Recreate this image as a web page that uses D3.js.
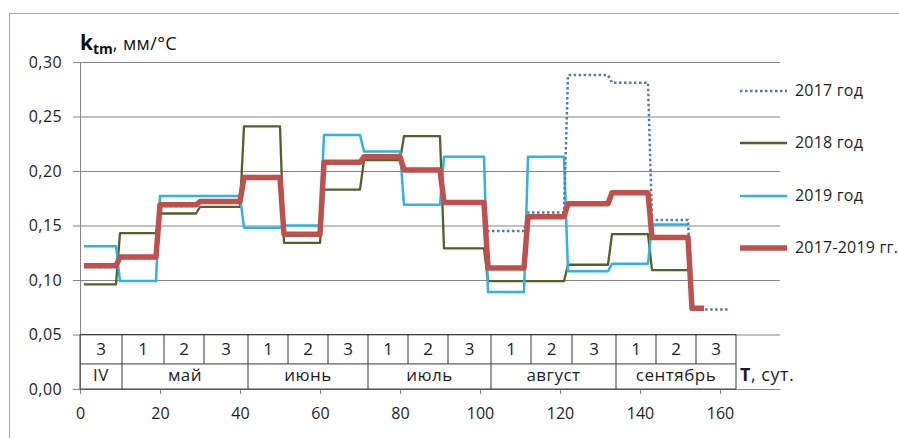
<!DOCTYPE html>
<html><head><meta charset="utf-8">
<script src="https://cdnjs.cloudflare.com/ajax/libs/d3/7.8.5/d3.min.js"></script>
<style>
html,body{margin:0;padding:0;background:#fff;}
svg{display:block;font-family:"Open Sans",sans-serif;}
</style></head>
<body>
<script>
// ---------- DATA ----------
const decadeLabels = ["3","1","2","3","1","2","3","1","2","3","1","2","3","1","2","3"];
const monthLabels = ["IV","май","июнь","июль","август","сентябрь"];
const monthDecadeCounts = [1,3,3,3,3,3];
const tableEdges = [0,10.5,21,31,42,52,62,72,82,92,102.75,112.75,123,134,144,154,164];
const decadeFirstDay = [1,10,20,30,41,51,61,71,81,91,102,112,122,133,143,153];
const decadeLastDay  = [9,19,29,40,50,60,70,80,90,101,111,121,132,142,152,162];
const xTicks = [0,20,40,60,80,100,120,140,160];
const yTicks = [0,0.05,0.10,0.15,0.20,0.25,0.30];

const k2017 = [0.112,0.120,0.168,0.171,0.193,0.143,0.207,0.212,0.201,0.171,0.145,0.162,0.288,0.281,0.155,0.073];
const k2018 = [0.096,0.143,0.161,0.167,0.241,0.134,0.183,0.210,0.232,0.129,0.099,0.099,0.114,0.142,0.109];
const k2019 = [0.131,0.099,0.177,0.177,0.148,0.150,0.233,0.218,0.169,0.213,0.089,0.213,0.108,0.115,0.151];
const kAvg  = [0.113,0.121,0.169,0.172,0.194,0.142,0.208,0.213,0.201,0.171,0.111,0.158,0.170,0.180,0.139,0.074];
const lastDay2017 = 162, lastDay2018 = 152, lastDay2019 = 152, lastDayAvg = 156;

const seriesNames = ["2017 год","2018 год","2019 год","2017-2019 гг."];

// ---------- LAYOUT ----------
const W = 899, H = 438;
const svg = d3.select("body").append("svg").attr("width", W).attr("height", H);

svg.append("rect").attr("x", 9.5).attr("y", 13.5).attr("width", 1000).attr("height", 1000)
  .attr("fill", "none").attr("stroke", "#a6a6a6").attr("stroke-width", 1);

const x = d3.scaleLinear().domain([0, 175]).range([80, 780]);
const y = d3.scaleLinear().domain([0, 0.30]).range([389, 62]);
const grid = "#868686";
const txt = "#1e1e1e";

// Y axis with gridlines
const yAxis = d3.axisLeft(y).tickValues(yTicks)
  .tickFormat(d => d3.format(".2f")(d).replace(".", ","))
  .tickSize(-(780 - 80)).tickPadding(18);
const gy = svg.append("g").attr("transform", "translate(80,0)").call(yAxis);
gy.select(".domain").remove();
gy.selectAll(".tick line").attr("stroke", grid).attr("stroke-width", 1);
gy.selectAll(".tick").append("line").attr("x1", -7).attr("x2", 0).attr("stroke", grid);
gy.selectAll(".tick text").attr("font-size", 16).attr("fill", txt)
  .attr("font-family", "Open Sans, sans-serif").attr("letter-spacing", 0.4);
svg.append("line").attr("x1", 80.5).attr("x2", 80.5).attr("y1", y(0.30)).attr("y2", y(0))
  .attr("stroke", grid);

// X axis
const xAxis = d3.axisBottom(x).tickValues(xTicks).tickSizeInner(5).tickSizeOuter(0).tickPadding(14);
const gx = svg.append("g").attr("transform", `translate(0,${y(0)})`).call(xAxis);
gx.select(".domain").attr("stroke", grid);
gx.selectAll(".tick line").attr("stroke", grid);
gx.selectAll(".tick text").attr("font-size", 16).attr("fill", txt)
  .attr("font-family", "Open Sans, sans-serif");

// ---------- TABLE ----------
const tTop = y(0.05), tBot = y(0), tMid = tTop + (tBot - tTop) * 0.54;
const tb = svg.append("g");
const tCol = "#3a3a3a";
const tEnd = x(tableEdges[tableEdges.length-1]);
[tTop, tMid, tBot].forEach(yy => {
  tb.append("line").attr("x1", x(0)).attr("x2", tEnd).attr("y1", yy).attr("y2", yy).attr("stroke", tCol);
});
const monthEdgeIdx = [0];
monthDecadeCounts.forEach(c => monthEdgeIdx.push(monthEdgeIdx[monthEdgeIdx.length-1] + c));
tableEdges.forEach((e, i) => {
  const full = monthEdgeIdx.includes(i);
  tb.append("line").attr("x1", x(e)).attr("x2", x(e))
    .attr("y1", tTop).attr("y2", full ? tBot : tMid).attr("stroke", tCol);
});
decadeLabels.forEach((t, i) => {
  tb.append("text").attr("x", (x(tableEdges[i]) + x(tableEdges[i+1])) / 2)
    .attr("y", (tTop + tMid) / 2 + 6).attr("text-anchor", "middle")
    .attr("font-size", 17).attr("fill", txt).text(t);
});
monthLabels.forEach((t, i) => {
  const a = tableEdges[monthEdgeIdx[i]], b = tableEdges[monthEdgeIdx[i+1]];
  tb.append("text").attr("x", (x(a) + x(b)) / 2)
    .attr("y", (tMid + tBot) / 2 + 5).attr("text-anchor", "middle")
    .attr("font-size", 17).attr("letter-spacing", 0.5).attr("fill", txt).text(t);
});
const tl = tb.append("text").attr("x", tEnd + 4)
  .attr("y", (tMid + tBot) / 2 + 5).attr("font-size", 18).attr("fill", txt).attr("letter-spacing", 0.5);
tl.append("tspan").attr("font-weight", "bold").text("T");
tl.append("tspan").text(", сут.");

// ---------- SERIES ----------
function stepPoints(vals, lastDay) {
  const pts = [];
  vals.forEach((v, i) => {
    pts.push([decadeFirstDay[i], v]);
    pts.push([i === vals.length - 1 ? lastDay : decadeLastDay[i], v]);
  });
  return pts;
}
const line = d3.line().x(d => x(d[0])).y(d => y(d[1]));

const styles = [
  {name: seriesNames[1], data: stepPoints(k2018, lastDay2018), color: "#4f6228", w: 2.3, dash: null},
  {name: seriesNames[2], data: stepPoints(k2019, lastDay2019), color: "#2db3e6", w: 2.5, dash: null},
  {name: seriesNames[0], data: stepPoints(k2017, lastDay2017), color: "#4f7bb8", w: 2.5, dash: "2.5,2.5"},
  {name: seriesNames[3], data: stepPoints(kAvg, lastDayAvg), color: "#c0504d", w: 5.5, dash: null}
];
styles.forEach(s => {
  svg.append("path").datum(s.data).attr("d", line)
    .attr("fill", "none").attr("stroke", s.color).attr("stroke-width", s.w)
    .attr("stroke-dasharray", s.dash).attr("stroke-linejoin", "round");
});

// ---------- LEGEND ----------
const legendOrder = [styles[2], styles[0], styles[1], styles[3]];
const legendY = [91, 143, 196, 248];
legendOrder.forEach((s, i) => {
  svg.append("line").attr("x1", 740).attr("x2", 787).attr("y1", legendY[i]).attr("y2", legendY[i])
    .attr("stroke", s.color).attr("stroke-width", s.w).attr("stroke-dasharray", s.dash);
  svg.append("text").attr("x", 795).attr("y", legendY[i] + 5).attr("font-size", 16)
    .attr("fill", txt).attr("letter-spacing", 0.2).text(s.name);
});

// ---------- TITLE ----------
const title = svg.append("text").attr("x", 80).attr("y", 50).attr("fill", "#111");
title.append("tspan").attr("font-weight", "bold").attr("font-size", 21).text("k");
title.append("tspan").attr("font-weight", "bold").attr("font-size", 14).attr("dy", 4).text("tm");
title.append("tspan").attr("font-size", 18).attr("dy", -4).attr("letter-spacing", 0.4).text(", мм/°C");
</script>
</body></html>
